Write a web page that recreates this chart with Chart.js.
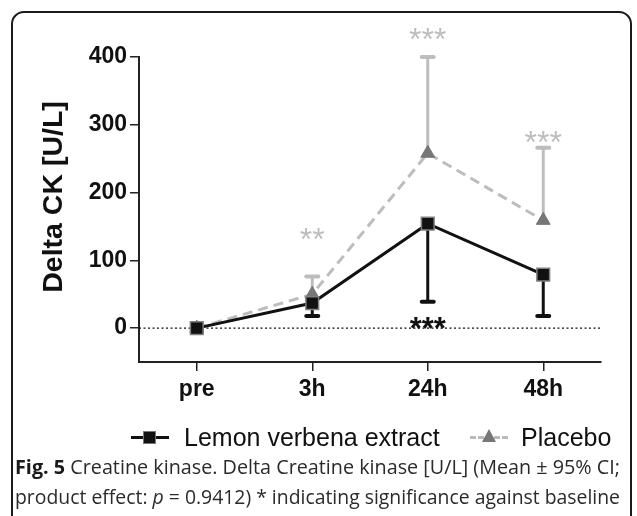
<!DOCTYPE html>
<html>
<head>
<meta charset="utf-8">
<script src="https://cdn.jsdelivr.net/npm/chart.js@4"></script>
<style>
  html, body { margin: 0; padding: 0; background: #fff; width: 637px; height: 516px; overflow: hidden; }
  #wrap { position: relative; width: 637px; height: 516px; }
  #frame { position: absolute; left: 11px; top: 11px; width: 621px; height: 530px; border: 2px solid #1a1a1a; border-radius: 13px; box-sizing: border-box; }
  canvas { position: absolute; left: 0; top: 0; }
  .leg { position: absolute; font-family: Arial, "Liberation Sans", sans-serif; font-size: 25px; color: #111; white-space: nowrap; line-height: 1; }
  .mk { position: absolute; }
  .cap { position: absolute; left: 15px; font-family: "Open Sans", "Noto Sans", sans-serif; font-size: 20px; color: #2a2a2a; white-space: nowrap; transform-origin: 0 0; line-height: 1; }
  .cap b { color: #1a1a1a; }
</style>
</head>
<body>
<div id="wrap">
  <div id="frame"></div>
  <canvas id="c" width="637" height="516"></canvas>

  <!-- legend -->
  <div class="mk" style="left:131px;top:436px;width:38px;height:3px;background:#111;"></div>
  <div class="mk" style="left:143px;top:431px;width:13px;height:13px;background:#111;border:1.5px solid #777;box-sizing:border-box;"></div>
  <div class="leg" id="legA" style="left:184px;top:425px;">Lemon verbena extract</div>
  <div class="mk" style="left:470px;top:436px;width:38px;height:0;border-top:3px dashed #bbb;"></div>
  <div class="mk" style="left:482px;top:429px;width:0;height:0;border-left:7px solid transparent;border-right:7px solid transparent;border-bottom:13px solid #777;"></div>
  <div class="leg" id="legB" style="left:521px;top:425px;">Placebo</div>

  <!-- caption -->
  <div class="cap" id="cap1" style="top:457px;"><b>Fig. 5</b> Creatine kinase. Delta Creatine kinase [U/L] (Mean ± 95% CI;</div>
  <div class="cap" id="cap2" style="top:487px;">product effect: <i>p</i> = 0.9412) * indicating significance against baseline</div>
</div>
<script>
// ---- data ----
const categories = ['pre', '3h', '24h', '48h'];
const lemonMean = [0, 37, 154, 79];
const lemonLower = [0, 18, 39, 18];
const placeboMean = [0, 50, 258, 159];
const placeboUpper = [0, 76, 400, 266];
const yTicks = [0, 100, 200, 300, 400];
const yTitle = 'Delta CK [U/L]';
// significance labels (text, and value level where label is anchored)
const placeboStars = [null, '**', '***', '***'];
const placeboStarLevel = [null, 141, 435, 284];
const lemonStars = [null, null, '***', null];
const lemonStarLevel = [null, null, 9, null];

// fit caption lines to width
function fitLine(id, w) {
  const el = document.getElementById(id);
  const ow = el.getBoundingClientRect().width;
  el.style.transform = 'scaleX(' + (w / ow) + ')';
}
fitLine('cap1', 605);
fitLine('cap2', 605);

const extras = {
  id: 'extras',
  beforeDatasetsDraw(chart) {
    const ctx = chart.ctx;
    const x = chart.scales.x, y = chart.scales.y;
    const ca = chart.chartArea;
    // dotted zero line
    ctx.save();
    ctx.strokeStyle = '#111';
    ctx.lineWidth = 1.3;
    ctx.setLineDash([2, 2.5]);
    const y0 = y.getPixelForValue(0);
    ctx.beginPath();
    ctx.moveTo(ca.left, y0);
    ctx.lineTo(ca.right, y0);
    ctx.stroke();
    ctx.restore();

    function bar(i, from, to, color) {
      const px = x.getPixelForValue(i);
      const p1 = y.getPixelForValue(from), p2 = y.getPixelForValue(to);
      ctx.save();
      ctx.strokeStyle = color;
      ctx.lineWidth = 3;
      ctx.lineCap = 'butt';
      ctx.beginPath();
      ctx.moveTo(px, p1);
      ctx.lineTo(px, p2);
      ctx.stroke();
      ctx.lineCap = 'round';
      ctx.lineWidth = 4;
      ctx.beginPath();
      ctx.moveTo(px - 6, p2);
      ctx.lineTo(px + 6, p2);
      ctx.stroke();
      ctx.restore();
    }
    for (let i = 1; i < categories.length; i++) {
      bar(i, placeboMean[i], placeboUpper[i], '#bdbdbd');
    }
    for (let i = 1; i < categories.length; i++) {
      bar(i, lemonMean[i], lemonLower[i], '#111');
    }
  },
  afterDatasetsDraw(chart) {
    const ctx = chart.ctx;
    const x = chart.scales.x, y = chart.scales.y;
    ctx.save();
    ctx.textAlign = 'center';
    ctx.textBaseline = 'alphabetic';
    ctx.font = '32px Arial, "Liberation Sans", sans-serif';
    ctx.fillStyle = '#bdbdbd';
    for (let i = 0; i < categories.length; i++) {
      if (!placeboStars[i]) continue;
      ctx.fillText(placeboStars[i], x.getPixelForValue(i), y.getPixelForValue(placeboStarLevel[i]) + 17);
    }
    ctx.font = 'bold 31px Arial, "Liberation Sans", sans-serif';
    ctx.fillStyle = '#111';
    for (let i = 0; i < categories.length; i++) {
      if (!lemonStars[i]) continue;
      ctx.fillText(lemonStars[i], x.getPixelForValue(i), y.getPixelForValue(lemonStarLevel[i]) + 17);
    }
    // y axis title
    ctx.translate(54, 197);
    ctx.rotate(-Math.PI / 2);
    ctx.textBaseline = 'middle';
    ctx.font = 'bold 28.5px Arial, "Liberation Sans", sans-serif';
    ctx.fillStyle = '#111';
    ctx.fillText(yTitle, 0, 0);
    ctx.restore();
  }
};

new Chart(document.getElementById('c'), {
  type: 'line',
  data: {
    labels: categories,
    datasets: [
      {
        label: 'Lemon verbena extract',
        data: lemonMean,
        borderColor: '#111',
        borderWidth: 3,
        pointStyle: 'rect',
        pointRadius: 9,
        pointBackgroundColor: '#111',
        pointBorderColor: '#808080',
        pointBorderWidth: 1.5,
        tension: 0
      },
      {
        label: 'Placebo',
        data: placeboMean,
        borderColor: '#bdbdbd',
        borderWidth: 3,
        borderDash: [10, 6],
        pointStyle: 'triangle',
        pointRadius: 8,
        pointBackgroundColor: '#777',
        pointBorderColor: '#777',
        pointBorderWidth: 1,
        tension: 0
      }
    ]
  },
  options: {
    responsive: false,
    animation: false,
    events: [],
    layout: { padding: { left: 34, right: 36, top: 57, bottom: 114 } },
    plugins: { legend: { display: false }, tooltip: { enabled: false } },
    scales: {
      x: {
        type: 'category',
        offset: true,
        grid: { display: true, drawOnChartArea: false, drawTicks: true, tickLength: 9, color: '#222', lineWidth: 1.5, offset: false },
        border: { display: true, color: '#222', width: 2 },
        ticks: { font: { family: 'Arial, "Liberation Sans", sans-serif', size: 23, weight: 'bold' }, color: '#111', padding: 5 },
        afterFit(scale) { scale.height = 40; }
      },
      y: {
        min: -50,
        max: 400,
        afterBuildTicks(scale) { scale.ticks = yTicks.map(v => ({ value: v })); },
        grid: { display: true, drawOnChartArea: false, drawTicks: true, tickLength: 9, color: '#222', lineWidth: 1.5 },
        border: { display: true, color: '#222', width: 2 },
        ticks: { font: { family: 'Arial, "Liberation Sans", sans-serif', size: 23, weight: 'bold' }, color: '#111', padding: 3 },
        title: { display: false },
        afterFit(scale) { scale.width = 105; }
      }
    }
  },
  plugins: [extras]
});
</script>
</body>
</html>
